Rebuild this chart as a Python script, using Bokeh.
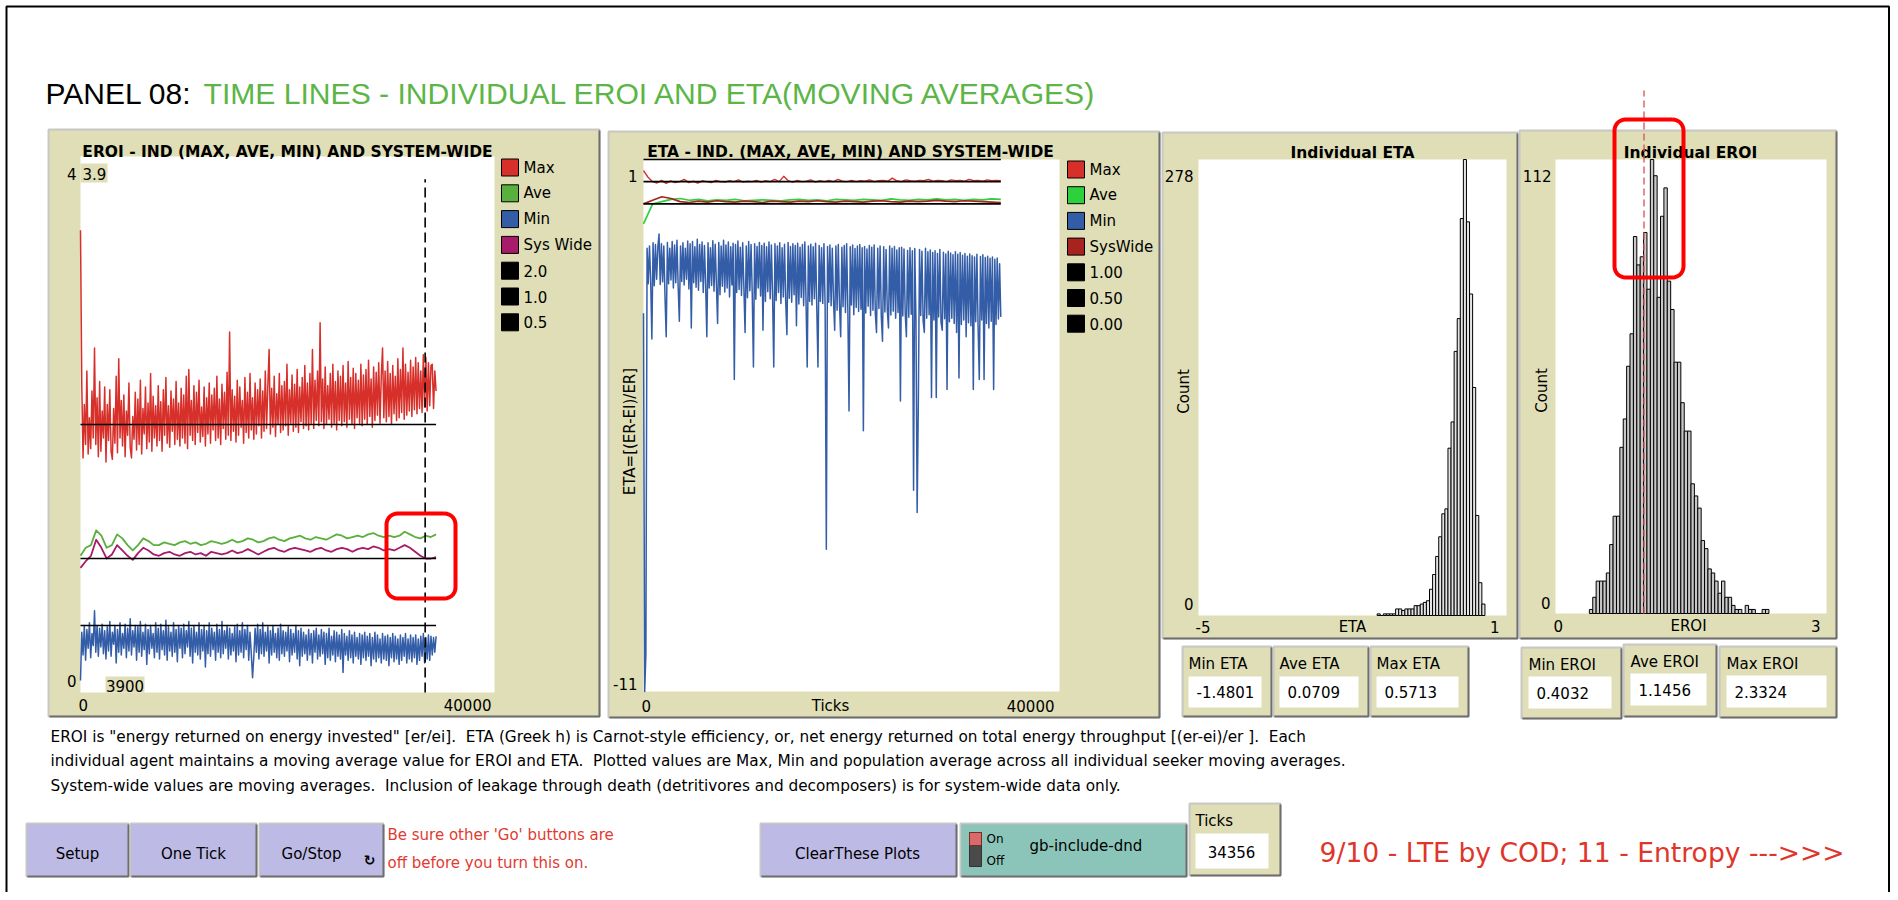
import numpy as np
from bokeh.plotting import figure
from bokeh.models import Range1d
from bokeh.core.properties import value
from bokeh.embed import file_html
from bokeh.resources import INLINE


def hundredths(s):
    return [int(t) / 100 for t in s.split()]


# ---------------- data ----------------
ticks_now = 34356
tick_axis_max = 40000

eroi_max = hundredths("""
345 230 175 215 185 240 178 205 182 225 190 257 185 220 176 232 180 210 190 228
172 215 188 226 180 174 212 186 236 179 249 190 218 184 222 176 210 192 231 183
175 206 189 224 181 219 185 233 178 212 193 228 182 216 187 238 180 221 190 214
184 229 188 217 180 226 192 235 186 214 183 225 195 219 185 232 189 216 184 227
190 222 186 236 182 241 192 218 188 229 185 224 194 233 187 213 191 228 184 220
193 231 186 222 196 227 188 236 190 219 185 230 197 224 189 239 192 269 188 226
195 221 187 233 192 228 198 218 186 235 194 224 190 238 196 220 189 231 193 226
199 234 190 225 195 240 197 229 256 193 227 198 236 191 223 200 238 194 229 196
232 199 245 192 226 201 237 195 230 198 241 194 228 202 235 197 244 199 231 196
238 201 256 197 233 203 240 199 276 202 234 197 243 200 229 204 238 198 245 201
232 196 240 203 236 199 244 202 231 198 247 204 235 200 242 197 238 205 233 201
245 199 237 204 241 200 248 206 234 198 243 203 239 207 246 201 236 257 205 240
202 247 206 238 200 244 208 236 203 249 205 241 209 257 204 245 207 239 210 248
206 243 211 250 208 246 212 240 209 252 213 250 210 246 214 244 245 212 240 225
""")
eroi_ave = [1.02, 1.08, 1.1, 1.21, 1.17, 1.08, 1.1, 1.18, 1.15, 1.1, 1.06, 1.1, 1.15, 1.13,
            1.1, 1.1, 1.12, 1.11, 1.1, 1.12, 1.13, 1.11, 1.12, 1.1, 1.11, 1.13, 1.12, 1.11,
            1.12, 1.14, 1.12, 1.13, 1.15, 1.14, 1.12, 1.13, 1.15, 1.16, 1.14, 1.13, 1.15, 1.16,
            1.17, 1.15, 1.14, 1.16, 1.15, 1.14, 1.16, 1.18, 1.17, 1.15, 1.16, 1.17, 1.16, 1.18,
            1.19, 1.17, 1.16, 1.17, 1.16, 1.17, 1.2, 1.18, 1.16, 1.15, 1.17, 1.16, 1.18]
eroi_min = hundredths("""
9 45 28 50 24 47 33 52 26 44 35 61 30 50 27 48 34 51 29 46
25 49 31 53 27 45 36 50 22 47 30 52 28 44 33 51 26 48 31 55
28 46 34 50 24 49 30 53 27 45 32 51 21 47 29 50 33 44 26 52
30 48 25 51 32 46 28 54 24 49 31 45 27 52 30 47 23 50 33 48
26 51 29 46 34 53 27 48 22 50 30 45 28 52 25 47 31 50 19 46
29 52 27 48 32 45 24 51 30 47 26 53 29 46 33 50 25 48 28 44
31 49 23 51 28 46 30 52 26 47 32 50 24 45 29 11 27 48 30 51
25 47 29 52 27 45 31 49 22 46 28 50 30 44 26 48 24 51 29 46
27 45 31 49 23 47 28 44 30 50 25 46 20 48 27 45 29 43 24 47
28 44 22 46 30 48 25 43 27 47 29 45 21 44 26 48 24 42 28 46
23 45 27 43 25 47 15 44 28 42 24 46 26 43 22 45 27 41 25 44
21 43 26 45 24 42 27 44 20 41 25 45 23 43 26 40 22 44 25 42
24 43 20 41 26 44 23 42 25 40 21 43 24 41 27 44 22 40 25 43
23 41 26 43 21 40 24 42 27 44 22 41 25 43 24 42 28 41 30 42
""")
eroi_sys = [0.93, 0.98, 1.02, 1.14, 1.08, 1.0, 1.03, 1.1, 1.06, 1.02, 0.99, 1.04, 1.08, 1.06,
            1.03, 1.02, 1.04, 1.05, 1.03, 1.02, 1.04, 1.05, 1.03, 1.04, 1.02, 1.05, 1.04, 1.03,
            1.04, 1.06, 1.04, 1.05, 1.07, 1.05, 1.03, 1.05, 1.07, 1.08, 1.06, 1.05, 1.07, 1.08,
            1.07, 1.06, 1.05, 1.07, 1.08, 1.06, 1.05, 1.07, 1.08, 1.07, 1.05, 1.07, 1.08, 1.07,
            1.09, 1.08, 1.06, 1.07, 1.06, 1.08, 1.1, 1.08, 1.05, 1.02, 1.0, 1.0, 1.01]
eroi_ref_levels = [2.0, 1.0, 0.5]
eroi_ref_labels = ["2.0", "1.0", "0.5"]

eta_max = [0.75, 0.6, 0.5, 0.47, 0.53, 0.46, 0.52, 0.48, 0.5, 0.55, 0.48, 0.51, 0.47, 0.52, 0.5, 0.48,
           0.53, 0.5, 0.49, 0.52, 0.5, 0.54, 0.49, 0.51, 0.5, 0.53, 0.49, 0.52, 0.5, 0.55, 0.5, 0.62,
           0.52, 0.49, 0.53, 0.5, 0.51, 0.54, 0.49, 0.52, 0.5, 0.53, 0.5, 0.55, 0.51, 0.5, 0.53, 0.5,
           0.52, 0.51, 0.54, 0.5, 0.52, 0.53, 0.51, 0.58, 0.52, 0.5, 0.54, 0.52, 0.51, 0.53, 0.52, 0.55,
           0.51, 0.53, 0.52, 0.5, 0.54, 0.52, 0.53, 0.51, 0.55, 0.52, 0.53, 0.51, 0.54, 0.52, 0.53, 0.52]
eta_ave = [-0.45, 0.0, 0.05, 0.1, 0.12, 0.08, 0.1, 0.07, 0.09, 0.08, 0.1, 0.07, 0.08, 0.09, 0.08,
           0.07, 0.09, 0.1, 0.08, 0.09, 0.07, 0.1, 0.09, 0.08, 0.1, 0.09, 0.08, 0.11, 0.09, 0.08,
           0.1, 0.09, 0.11, 0.09, 0.1, 0.08, 0.1, 0.09, 0.11, 0.1]
eta_min = hundredths("""
-247 -1100 -1015 -100 -180 -95 -172 -305 -88 -185 -92 -170 -98 -68 -182 -90 -176 -95 -210 -300
-87 -180 -100 -172 -85 -190 -93 -178 -82 -186 -265 -95 -175 -88 -183 -100 -170 -84 -192 -90
-280 -85 -178 -97 -188 -80 -195 -92 -175 -86 -200 -94 -182 -300 -88 -190 -99 -184 -83 -197
-91 -180 -270 -87 -205 -95 -186 -82 -199 -93 -190 -86 -210 -97 -183 -89 -396 -92 -200 -84
-193 -98 -207 -88 -188 -290 -95 -212 -85 -196 -92 -203 -368 -90 -215 -96 -190 -87 -208 -94
-285 -89 -220 -97 -198 -86 -214 -93 -205 -368 -90 -218 -95 -200 -88 -225 -99 -210 -91 -219
-295 -87 -213 -96 -222 -90 -205 -94 -275 -89 -226 -98 -211 -92 -230 -86 -218 -368 -95 -220
-91 -228 -97 -214 -89 -233 -368 -94 -220 -99 -225 -90 -236 -779 -96 -222 -93 -230 -100 -218
-285 -95 -240 -92 -226 -300 -98 -232 -94 -245 -90 -237 -467 -97 -228 -93 -250 -101 -234 -95
-243 -92 -238 -99 -512 -96 -246 -102 -231 -94 -252 -98 -240 -93 -248 -290 -100 -236 -95 -255
-310 -97 -244 -103 -239 -280 -95 -251 -100 -242 -96 -258 -104 -245 -99 -445 -98 -253 -102 -247
-300 -105 -256 -99 -249 -106 -646 -101 -260 -696 -445 -103 -252 -107 -264 -290 -100 -258 -108 -250
-104 -437 -110 -262 -106 -437 -112 -255 -103 -268 -285 -109 -259 -113 -419 -107 -266 -111 -258 -115
-270 -108 -290 -114 -393 -110 -272 -116 -262 -112 -300 -118 -268 -113 -275 -117 -419 -120 -266 -114
-278 -396 -119 -262 -115 -396 -121 -270 -118 -280 -123 -265 -120 -419 -125 -272 -122 -260 -135 -255
""")
eta_sys = [0.0, 0.08, 0.16, 0.12, 0.05, 0.03, 0.06, 0.04, 0.07, 0.05, 0.04, 0.06, 0.05, 0.03,
           0.06, 0.05, 0.04, 0.06, 0.05, 0.07, 0.05, 0.04, 0.06, 0.05, 0.04, 0.06, 0.07, 0.05,
           0.04, 0.06, 0.05, 0.06, 0.08, 0.06, 0.05, 0.07, 0.06, 0.05, 0.04, 0.03]
eta_ref_levels = [1.0, 0.5, 0.0]
eta_ref_labels = ["1.00", "0.50", "0.00"]

eta_hist_start = -1.52
eta_hist_width = 0.06
eta_hist_counts = [1, 0, 1, 1, 1, 1, 4, 4, 3, 4, 4, 4, 6, 6, 7, 8, 9, 16,
                   25, 36, 48, 62, 65, 102, 118, 161, 181, 242, 278, 240, 196, 139, 61, 20, 7]
eroi_hist_start = 0.375
eroi_hist_width = 0.0375
eroi_hist_counts = [1, 4, 8, 8, 8, 10, 17, 24, 24, 41, 48, 61, 69, 93, 86, 88, 94, 80, 112, 108,
                    78, 98, 105, 82, 75, 62, 62, 52, 45, 45, 32, 29, 26, 18, 16, 11, 10, 8, 5, 8,
                    4, 4, 2, 1, 1, 0, 2, 1, 1, 0, 0, 1, 1]

eta_monitor_labels = ["Min ETA", "Ave ETA", "Max ETA"]
eta_monitor_values = ["-1.4801", "0.0709", "0.5713"]
eroi_monitor_labels = ["Min EROI", "Ave EROI", "Max EROI"]
eroi_monitor_values = ["0.4032", "1.1456", "2.3324"]
ave_eroi_marker = 0.98
cursor_tick = 33300

# ---------------- styling ----------------
F = "DejaVu Sans"
FT = "Liberation Sans"
BEIGE = "#DFDEB6"
LAV = "#BDBBE5"
TEAL = "#8BC5B9"
C_RED = "#D7302A"
C_GREEN = "#59B03C"
C_LIME = "#2CD13B"
C_BLUE = "#345DA8"
C_MAG = "#A71B6A"
C_DRED = "#A82220"

W, H = 1890, 892
OX, OY = 0, 0

p = figure(width=W, height=H, x_range=Range1d(OX, OX + W), y_range=Range1d(OY + H, OY),
           output_backend="svg", toolbar_location=None, x_axis_type=None, y_axis_type=None,
           min_border=0, min_border_left=0, min_border_right=0, min_border_top=0,
           min_border_bottom=0, outline_line_color=None,
           background_fill_color="white", border_fill_color="white")


def txt(x, y, s, size=15, color="black", align="left", baseline="middle", font=F,
        style="normal", angle=0.0):
    p.text(x=[x], y=[y], text=[s], text_font=value(font), text_font_size=f"{size}px",
           text_color=color, text_align=align, text_baseline=baseline,
           text_font_style=style, angle=angle)


def box(l, r, t, b, fill, line=None, lw=1.0):
    p.quad(left=[l], right=[r], top=[t], bottom=[b], fill_color=fill,
           line_color=line, line_width=lw)


def widget(l, r, t, b, fill):
    box(l, r, t, b, fill, line="#B4B4B4", lw=1.5)
    p.line([l, l, r], [b, t, t], line_color="#C8C8C8", line_width=1.5)
    p.line([l + 1, r, r], [b, b, t + 1], line_color="#6E6E6E", line_width=2)


def sub_ranges(name, L, R, T, B, x0, x1, y0, y1):
    kx = (x1 - x0) / (R - L)
    xs = x0 - (L - OX) * kx
    p.extra_x_ranges[name] = Range1d(xs, xs + W * kx)
    ky = (y1 - y0) / (B - T)
    p.extra_y_ranges[name] = Range1d(y0 - (OY + H - B) * ky, y1 + (T - OY) * ky)


def series(name, vals, color, lw=1.0):
    xs = np.linspace(0, ticks_now, len(vals))
    p.line(xs, vals, x_range_name=name, y_range_name=name, line_color=color,
           line_width=lw, line_join="round")


def legend(x, y0, dy, items):
    for i, (lab, col) in enumerate(items):
        cy = y0 + i * dy
        box(x, x + 17, cy - 8.5, cy + 8.5, col, line="black", lw=1)
        txt(x + 22, cy, lab, 15)


def rounded(l, r, t, b, rad, color, lw):
    xs, ys = [], []
    for cx, cy, a0 in [(r - rad, t + rad, -90), (r - rad, b - rad, 0),
                       (l + rad, b - rad, 90), (l + rad, t + rad, 180)]:
        for a in np.linspace(a0, a0 + 90, 8):
            xs.append(cx + rad * np.cos(np.radians(a)))
            ys.append(cy + rad * np.sin(np.radians(a)))
    xs.append(xs[0]); ys.append(ys[0])
    p.line(xs, ys, line_color=color, line_width=lw, line_join="round")


# ---------------- page frame & header ----------------
p.line([6, 6, 1888.5, 1888.5], [OY + H, 6, 6, OY + H], line_color="black", line_width=2)
txt(45, 93, "PANEL 08:", 30, baseline="alphabetic", font=FT)
txt(203, 93, "TIME LINES - INDIVIDUAL EROI AND ETA(MOVING AVERAGES)", 30.1,
    color="#5BB547", baseline="alphabetic", font=FT)

# ---------------- panel 1 : EROI time lines ----------------
widget(48, 599, 129, 716, BEIGE)
box(80, 494, 156, 692, "white")
txt(287, 151, "EROI - IND (MAX, AVE, MIN) AND SYSTEM-WIDE", 15.5, align="center",
    baseline="alphabetic", style="bold")
sub_ranges("p1", 80, 494, 156, 692, 0, tick_axis_max, 0, 4)
series("p1", eroi_max, C_RED, 1.5)
series("p1", eroi_ave, C_GREEN, 1.8)
series("p1", eroi_min, C_BLUE, 1.5)
series("p1", eroi_sys, C_MAG, 1.8)
for lv in eroi_ref_levels:
    p.line([0, ticks_now], [lv, lv], x_range_name="p1", y_range_name="p1",
           line_color="black", line_width=1.6)
p.line([cursor_tick, cursor_tick], [0, 3.83], x_range_name="p1", y_range_name="p1",
       line_color="black", line_width=1.6, line_dash="10 5")
legend(501, 167, 25.8, [("Max", C_RED), ("Ave", C_GREEN), ("Min", C_BLUE),
                        ("Sys Wide", C_MAG)] + [(l, "black") for l in eroi_ref_labels])
txt(76, 173, "4", 15, align="right")
box(80, 107, 163, 182, BEIGE)
txt(82, 173, "3.9", 15)
txt(76, 680, "0", 15, align="right")
box(105, 144, 676, 692, BEIGE)
txt(124.5, 685, "3900", 15, align="center")
txt(78, 704, "0", 15)
txt(491, 704, str(tick_axis_max), 15, align="right")
rounded(386, 455, 513, 598, 11, "#FF0000", 4)

# ---------------- panel 2 : ETA time lines ----------------
widget(608, 1159, 131, 717, BEIGE)
box(643, 1059, 159, 691, "white")
txt(850, 151, "ETA - IND. (MAX, AVE, MIN) AND SYSTEM-WIDE", 15.5, align="center",
    baseline="alphabetic", style="bold")
sub_ranges("p2", 643, 1059, 159, 691, 0, tick_axis_max, -11, 1)
series("p2", eta_max, C_RED, 1.4)
series("p2", eta_ave, C_LIME, 1.7)
series("p2", eta_min, C_BLUE, 1.5)
series("p2", eta_sys, C_DRED, 1.7)
for lv in eta_ref_levels:
    p.line([0, ticks_now], [lv, lv], x_range_name="p2", y_range_name="p2",
           line_color="black", line_width=1.6)
legend(1067, 169, 25.7, [("Max", C_RED), ("Ave", C_LIME), ("Min", C_BLUE),
                         ("SysWide", C_DRED)] + [(l, "black") for l in eta_ref_labels])
txt(637, 175, "1", 15, align="right")
txt(637, 683, "-11", 15, align="right")
txt(629, 431, "ETA=[(ER-EI)/ER]", 15, align="center", angle=np.pi / 2)
txt(641, 705, "0", 15)
txt(830, 705, "Ticks", 15, align="center")
txt(1054, 705, str(tick_axis_max), 15, align="right")

# ---------------- panel 3 : ETA histogram ----------------
widget(1162, 1517, 132, 638, BEIGE)
box(1198, 1506, 159, 615, "white")
txt(1352, 152, "Individual ETA", 15.5, align="center", baseline="alphabetic", style="bold")
sub_ranges("p3", 1198, 1506, 159, 615, -5, 1, 0, max(eta_hist_counts))
le = eta_hist_start + eta_hist_width * np.arange(len(eta_hist_counts))
p.quad(left=le, right=le + eta_hist_width, bottom=0, top=eta_hist_counts,
       x_range_name="p3", y_range_name="p3", fill_color="#E4E4E4", line_color="black",
       line_width=1)
txt(1193, 175, str(max(eta_hist_counts)), 15, align="right")
txt(1193, 603, "0", 15, align="right")
txt(1183, 391, "Count", 15, align="center", angle=np.pi / 2)
txt(1195, 626, "-5", 15)
txt(1352, 626, "ETA", 15, align="center")
txt(1499, 626, "1", 15, align="right")

eta_boxes = [(1182, 1271), (1273, 1368), (1370, 1468)]
for (l, r), lab, val in zip(eta_boxes, eta_monitor_labels, eta_monitor_values):
    widget(l, r, 646, 716, BEIGE)
    txt(l + 6, 663, lab, 15)
    box(l + 6, r - 10, 676, 707, "white")
    txt(l + 14, 691.5, val, 15)

# ---------------- panel 4 : EROI histogram ----------------
widget(1519, 1836, 130, 638, BEIGE)
box(1555, 1826, 159, 613, "white")
txt(1690, 152, "Individual EROI", 15.5, align="center", baseline="alphabetic", style="bold")
sub_ranges("p4", 1555, 1826, 159, 613, 0, 3, 0, max(eroi_hist_counts))
le4 = eroi_hist_start + eroi_hist_width * np.arange(len(eroi_hist_counts))
p.quad(left=le4, right=le4 + eroi_hist_width, bottom=0, top=eroi_hist_counts,
       x_range_name="p4", y_range_name="p4", fill_color="#C8C8C8", line_color="black",
       line_width=1)
p.line([ave_eroi_marker, ave_eroi_marker], [0, 129], x_range_name="p4", y_range_name="p4",
       line_color="#E05A5A", line_width=1.4, line_dash="7 4")
txt(1551, 175, str(max(eroi_hist_counts)), 15, align="right")
txt(1550, 602, "0", 15, align="right")
txt(1541, 390, "Count", 15, align="center", angle=np.pi / 2)
txt(1553, 625, "0", 15)
txt(1688, 625, "EROI", 15, align="center")
txt(1820, 625, "3", 15, align="right")
rounded(1614, 1683, 119, 277, 11, "#FF0000", 4)

eroi_boxes = [(1521, 1621, 647, 718), (1623, 1716, 644, 716), (1719, 1836, 646, 717)]
for (l, r, t, b), lab, val in zip(eroi_boxes, eroi_monitor_labels, eroi_monitor_values):
    widget(l, r, t, b, BEIGE)
    txt(l + 7, t + 17, lab, 15)
    box(l + 7, r - 10, t + 29, t + 61, "white")
    txt(l + 15, t + 45, val, 15)

# ---------------- notes ----------------
S2 = " \u00a0"
notes = ['EROI is "energy returned on energy invested" [er/ei].' + S2 + 'ETA (Greek h) is Carnot-style '
         'efficiency, or, net energy returned on total energy throughput [(er-ei)/er ].' + S2 + 'Each',
         'individual agent maintains a moving average value for EROI and ETA.' + S2 + 'Plotted values are '
         'Max, Min and population average across all individual seeker moving averages.',
         'System-wide values are moving averages.' + S2 + 'Inclusion of leakage through death '
         '(detritivores and decomposers) is for system-wide data only.']
for i, line in enumerate(notes):
    txt(50, 736 + 24.5 * i, line, 15.3)

# ---------------- buttons row ----------------
for (l, r), lab in zip([(26, 128), (130, 256), (259, 383)], ["Setup", "One Tick", "Go/Stop"]):
    widget(l, r, 823, 876, LAV)
    txt((l + r) / 2 - (10 if lab == "Go/Stop" else 0), 853, lab, 15, align="center")
txt(369, 859, "\u21bb", 14, align="center", style="bold")
txt(387, 834, "Be sure other 'Go' buttons are", 15, color="#E23A30")
txt(387, 862, "off before you turn this on.", 15, color="#E23A30")

widget(760, 956, 823, 876, LAV)
txt(857, 853, "ClearThese Plots", 15, align="center")

widget(960, 1186, 823, 876, TEAL)
box(969, 981, 832, 866, "#4A4A4A", line="#333333")
box(969, 981, 832, 845, "#D96A6A", line="#7A2A2A")
txt(986, 838, "On", 12)
txt(986, 860, "Off", 12)
txt(1029, 845, "gb-include-dnd", 15)

widget(1189, 1280, 803, 875, BEIGE)
txt(1195, 820, "Ticks", 15)
box(1195, 1268, 833, 868, "white")
txt(1231, 851, str(ticks_now), 15, align="center")

txt(1319, 852, "9/10 - LTE by COD; 11 - Entropy --->>>", 26.6, color="#E0352B")

open("out.html", "w").write(file_html(p, INLINE))
